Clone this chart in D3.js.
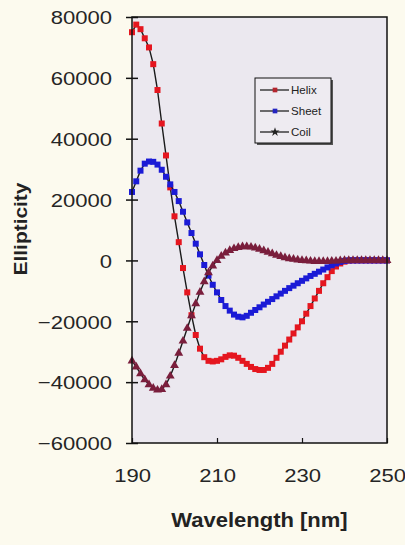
<!DOCTYPE html>
<html>
<head>
<meta charset="utf-8">
<script src="https://cdn.jsdelivr.net/npm/d3@7"></script>
<style>
  body { margin: 0; background: #fcfaee; }
  svg { display: block; }
  .tick text { font-family: "Liberation Sans", Arial, sans-serif; fill: #252525; }
</style>
</head>
<body>
<script>
// CD spectra of the three reference secondary structures
var wavelength = [190,191,192,193,194,195,196,197,198,199,
  200,201,202,203,204,205,206,207,208,209,
  210,211,212,213,214,215,216,217,218,219,
  220,221,222,223,224,225,226,227,228,229,
  230,231,232,233,234,235,236,237,238,239,
  240,241,242,243,244,245,246,247,248,249,250];

var helix = [75000,77500,76000,73000,70000,64500,56000,45000,34500,24000,
  14500,6000,-2500,-10500,-18000,-24500,-29000,-31800,-33000,-33200,
  -33000,-32500,-31700,-31200,-31300,-32000,-33000,-34000,-35000,-35700,
  -36000,-36000,-35300,-34000,-32000,-30000,-28000,-26000,-24000,-22000,
  -20000,-17500,-15000,-12500,-10000,-7500,-5500,-3500,-2000,-1000,
  -400,-100,0,0,0,0,0,0,0,0,0];

var sheet = [22500,26000,29500,31800,32500,32400,31500,29800,27500,25000,
  22500,19500,16000,12500,9000,5500,2000,-1500,-5000,-8000,
  -10500,-13000,-15000,-16500,-17800,-18500,-18700,-18200,-17200,-16300,
  -15400,-14500,-13600,-12700,-11800,-10900,-10000,-9100,-8300,-7500,
  -6700,-5900,-5100,-4400,-3700,-3000,-2300,-1600,-1000,-500,
  -150,0,0,0,0,0,0,0,0,0,0];

var coil = [-33000,-35000,-37200,-39200,-40800,-42000,-42600,-42400,-40800,-38000,
  -34500,-30500,-26500,-22300,-18200,-14200,-10400,-7000,-4000,-1800,
  0,1400,2500,3300,3900,4300,4500,4500,4400,4100,
  3700,3200,2700,2200,1700,1300,900,600,400,200,
  0,-100,-200,-300,-300,-300,-300,-200,-200,-100,
  0,0,0,0,0,0,0,0,0,0,0];

var seriesNames = ["Helix", "Sheet", "Coil"];
var yTicks = [80000, 60000, 40000, 20000, 0, -20000, -40000, -60000];
var xTicks = [190, 210, 230, 250];

var w = 405;
var h = 545;
var plotL = 132, plotR = 387, plotT = 17, plotB = 443;
var stretch = 1.16;

var svg = d3.select("body")
  .append("svg")
  .attr("width", w)
  .attr("height", h);

var x = d3.scaleLinear().domain([190, 250]).range([plotL, plotR]);
var y = d3.scaleLinear().domain([-60000, 80000]).range([plotB, plotT]);

// plot background
svg.append("rect")
  .attr("x", plotL)
  .attr("y", plotT)
  .attr("width", plotR - plotL)
  .attr("height", plotB - plotT)
  .attr("fill", "#ebe8ef");

// widen text a little, the original plot used a broad face
function widen(sel, k) {
  sel.each(function() {
    var len = this.getComputedTextLength();
    this.setAttribute("textLength", len * k);
    this.setAttribute("lengthAdjust", "spacingAndGlyphs");
  });
}

var series = [
  { name: "Helix", values: helix, color: "#e5161f", symbol: d3.symbolSquare, size: 36 },
  { name: "Sheet", values: sheet, color: "#1b1bd6", symbol: d3.symbolSquare, size: 36 },
  { name: "Coil", values: coil, color: "#7a1e3c", symbol: d3.symbolTriangle, size: 34 }
];

var line = d3.line()
  .x(function(d) { return x(d[0]); })
  .y(function(d) { return y(d[1]); });

series.forEach(function(s) {
  var pts = wavelength.map(function(l, i) { return [l, s.values[i]]; });
  var g = svg.append("g").attr("class", "series");
  g.append("path")
    .datum(pts)
    .attr("d", line)
    .attr("fill", "none")
    .attr("stroke", "#1a1a1a")
    .attr("stroke-width", 1.4);
  g.selectAll("path.mark")
    .data(pts)
    .enter()
    .append("path")
    .attr("class", "mark")
    .attr("d", d3.symbol().type(s.symbol).size(s.size))
    .attr("transform", function(d) { return "translate(" + x(d[0]) + "," + y(d[1]) + ")"; })
    .attr("fill", s.color);
});

// frame
svg.append("rect")
  .attr("x", plotL)
  .attr("y", plotT)
  .attr("width", plotR - plotL)
  .attr("height", plotB - plotT)
  .attr("fill", "none")
  .attr("stroke", "#111")
  .attr("stroke-width", 1.5);

// y axis, ticks cross the axis line
var yAxis = svg.append("g")
  .attr("transform", "translate(" + plotL + ",0)")
  .call(d3.axisLeft(y).tickValues(yTicks).tickSize(6).tickPadding(14).tickFormat(d3.format("d")));
yAxis.select(".domain").remove();
yAxis.selectAll(".tick line").attr("x1", 6).attr("x2", -6).attr("stroke", "#111").attr("stroke-width", 1.5);
yAxis.selectAll(".tick text").attr("font-size", 19).attr("dy", "0.36em").attr("x", -20);
widen(yAxis.selectAll(".tick text"), stretch);

// x axis, short inner ticks
var xAxis = svg.append("g")
  .attr("transform", "translate(0," + plotB + ")")
  .call(d3.axisBottom(x).tickValues(xTicks).tickSize(-5).tickPadding(0));
xAxis.select(".domain").remove();
xAxis.selectAll(".tick line").attr("stroke", "#111").attr("stroke-width", 1.2);
xAxis.selectAll(".tick text").attr("font-size", 19).attr("y", 39).attr("dy", 0);
widen(xAxis.selectAll(".tick text"), stretch);

// axis titles
var xTitle = svg.append("text")
  .attr("x", (plotL + plotR) / 2)
  .attr("y", 527)
  .attr("text-anchor", "middle")
  .attr("font-family", "Liberation Sans, Arial, sans-serif")
  .attr("font-weight", "bold")
  .attr("font-size", 20)
  .attr("fill", "#222")
  .text("Wavelength [nm]");
widen(xTitle, 1.1);

var yTitle = svg.append("text")
  .attr("transform", "translate(27," + 229 + ") rotate(-90)")
  .attr("text-anchor", "middle")
  .attr("font-family", "Liberation Sans, Arial, sans-serif")
  .attr("font-weight", "bold")
  .attr("font-size", 19)
  .attr("fill", "#222")
  .text("Ellipticity");
widen(yTitle, 1.1);

// legend
var lx = 255, ly = 78, lw = 76, lh = 65;
svg.append("rect")
  .attr("x", lx + 2).attr("y", ly + 2)
  .attr("width", lw).attr("height", lh)
  .attr("fill", "#555");
svg.append("rect")
  .attr("x", lx).attr("y", ly)
  .attr("width", lw).attr("height", lh)
  .attr("fill", "#eeebf1")
  .attr("stroke", "#111")
  .attr("stroke-width", 1);

var legendMarks = ["#b4252e", "#2424c0", "#222"];
seriesNames.forEach(function(name, i) {
  var ry = ly + 12 + i * 21;
  svg.append("line")
    .attr("x1", lx + 5).attr("x2", lx + 34)
    .attr("y1", ry).attr("y2", ry)
    .attr("stroke", "#111").attr("stroke-width", 1.2);
  svg.append("path")
    .attr("d", d3.symbol().type(i < 2 ? d3.symbolSquare : d3.symbolStar).size(i < 2 ? 22 : 26))
    .attr("transform", "translate(" + (lx + 20) + "," + ry + ")")
    .attr("fill", legendMarks[i]);
  var t = svg.append("text")
    .attr("x", lx + 36).attr("y", ry + 4)
    .attr("font-family", "Liberation Sans, Arial, sans-serif")
    .attr("font-size", 10.5)
    .attr("fill", "#222")
    .text(name);
  widen(t, 1.1);
});
</script>
</body>
</html>
